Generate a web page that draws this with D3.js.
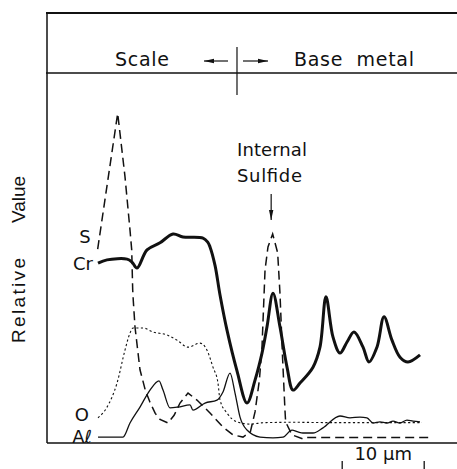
<!DOCTYPE html>
<html>
<head>
<meta charset="utf-8">
<script src="https://cdn.jsdelivr.net/npm/d3@7"></script>
<style>
  body { margin: 0; background: #fff; }
  text { font-family: "DejaVu Sans", "Liberation Sans", sans-serif; fill: #111; }
  .helv { font-family: "Liberation Sans", Arial, sans-serif; }
</style>
</head>
<body>
<svg id="chart" width="457" height="469"></svg>
<script>
// Line-scan profile across the scale / base-metal interface.
// x: distance in µm, y: relative intensity (0–100).

const sulfur = [
  [6.18,52.4],[8.62,89.1],[9.51,72.0],[10.12,57.6],[10.33,52.2],[10.45,41.4],[10.52,38.6],
  [10.73,31.4],[11.34,19.8],[12.0,14.2],[12.56,11.0],[13.2,8.0],[13.78,6.4],[14.76,5.4],[15.5,7.5],[16.22,10.8],
  [17.2,13.5],[18.29,11.6],[19.88,8.1],[21.46,4.3],[22.68,2.2],[23.9,1.6],[24.8,3.0],
  [25.37,8.4],[25.9,17.0],[26.22,26.0],[26.59,46.8],[26.95,53.0],[27.52,56.5],[28.13,51.4],
  [28.41,40.5],[28.74,22.4],[29.02,8.9],[29.1,5.7],[29.88,2.2],[31.22,1.1],[31.71,1.5],
  [38.0,1.5],[46.71,1.5]
];

const chromium = [
  [6.22,48.6],[7.32,49.5],[9.76,49.7],[10.37,48.9],[10.98,47.3],[12.20,52.2],[13.78,54.1],
  [15.37,56.5],[16.59,55.7],[19.02,55.4],[19.6,54.3],[19.88,53.0],[20.49,48.0],[21.10,40.0],
  [21.95,30.5],[23.17,19.5],[24.39,10.8],[25.37,17.0],[26.22,24.3],[26.83,31.4],[27.56,40.5],
  [28.41,31.4],[29.27,20.5],[30.0,14.3],[30.85,16.2],[32.44,20.5],[33.29,25.9],[34.02,39.5],
  [34.88,28.6],[35.73,24.3],[36.59,27.3],[37.44,30.0],[38.54,25.9],[39.27,21.9],[40.24,25.9],
  [41.10,34.1],[42.07,27.8],[43.05,23.2],[44.02,21.9],[45.49,23.8]
];

const oxygen = [
  [6.22,6.8],[7.32,9.7],[8.54,16.2],[9.51,25.1],[10.12,29.7],[10.49,31.1],[11.71,31.1],
  [12.93,30.0],[14.63,29.2],[15.85,27.8],[17.2,25.9],[18.66,27.0],[19.51,25.1],[20.24,20.5],
  [20.85,16.2],[21.10,11.6],[21.95,8.1],[23.17,5.7],[24.76,5.1],[26.5,5.5],[30.0,5.6],
  [35.0,5.5],[40.0,5.5],[45.73,5.5]
];

const aluminium = [
  [6.22,1.6],[9.27,1.6],[10.12,5.4],[11.34,9.7],[12.56,14.3],[13.66,16.8],[14.15,14.3],
  [15.0,9.5],[15.98,9.7],[17.44,10.3],[17.80,8.9],[19.27,10.8],[20.73,11.6],[21.46,13.8],
  [22.32,18.9],[22.93,13.5],[23.54,7.0],[24.39,3.5],[25.98,1.6],[27.56,1.4],[28.78,1.6],
  [29.88,3.5],[30.61,3.0],[31.22,2.7],[32.44,2.7],[33.66,4.1],[35.73,7.3],[36.95,6.8],
  [38.17,7.0],[39.02,6.8],[39.76,5.4],[40.61,5.7],[41.46,5.4],[42.20,5.9],[43.05,5.4],
  [43.90,6.2],[44.63,5.9],[45.49,5.7]
];

const seriesNames = ["S", "Cr", "O", "Aℓ"];
const regionNames = ["Scale", "Base  metal"];
const interfaceAt = 23.17;      // µm, scale / base metal boundary
const sulfideAt = 27.52;        // µm, internal sulfide peak
const scaleBar = [36, 46];      // µm
const scaleBarLabel = "10 µm";

const W = 457, H = 469;
const margin = { left: 47, top: 73, right: 0, bottom: 26 };
const headerTop = 13;

const svg = d3.select("#chart");
const x = d3.scaleLinear().domain([0, 50]).range([margin.left, W - margin.right]);
const y = d3.scaleLinear().domain([0, 100]).range([H - margin.bottom, margin.top]);

const ink = "#111";

// frame: header band, left axis, base line
svg.append("line").attr("x1", x(0) - 1).attr("x2", W).attr("y1", headerTop).attr("y2", headerTop)
  .attr("stroke", ink).attr("stroke-width", 1.8);
svg.append("line").attr("x1", x(0) - 1).attr("x2", W).attr("y1", y(100)).attr("y2", y(100))
  .attr("stroke", ink).attr("stroke-width", 1.5);
svg.append("line").attr("x1", x(0)).attr("x2", x(0)).attr("y1", headerTop).attr("y2", y(0))
  .attr("stroke", ink).attr("stroke-width", 1.5);
svg.append("line").attr("x1", x(0)).attr("x2", W).attr("y1", y(0)).attr("y2", y(0))
  .attr("stroke", ink).attr("stroke-width", 1.6);

// header: regions and boundary
const bx = x(interfaceAt);
svg.append("line").attr("x1", bx).attr("x2", bx).attr("y1", 47).attr("y2", 95)
  .attr("stroke", ink).attr("stroke-width", 1.2);

const defs = svg.append("defs");
defs.append("marker").attr("id", "head").attr("viewBox", "0 0 10 6")
  .attr("refX", 10).attr("refY", 3).attr("markerWidth", 10).attr("markerHeight", 6)
  .attr("markerUnits", "userSpaceOnUse").attr("orient", "auto")
  .append("path").attr("d", "M0,0.8L10,3L0,5.2Z").attr("fill", ink);

svg.append("line").attr("x1", bx - 9).attr("x2", bx - 33).attr("y1", 61).attr("y2", 61)
  .attr("stroke", ink).attr("stroke-width", 1.2).attr("marker-end", "url(#head)");
svg.append("line").attr("x1", bx + 6).attr("x2", bx + 31).attr("y1", 61).attr("y2", 61)
  .attr("stroke", ink).attr("stroke-width", 1.2).attr("marker-end", "url(#head)");

svg.append("text").attr("x", 115).attr("y", 66).attr("font-size", 19)
  .attr("textLength", 54).attr("lengthAdjust", "spacing").text(regionNames[0]);
svg.append("text").attr("x", 294).attr("y", 66).attr("font-size", 19)
  .attr("textLength", 120).attr("lengthAdjust", "spacing")
  .style("white-space", "pre").text(regionNames[1]);

// y-axis title
svg.append("text").attr("class", "helv").attr("transform", "translate(25,343) rotate(-90)")
  .attr("font-size", 19).attr("textLength", 85).attr("lengthAdjust", "spacing").text("Relative");
svg.append("text").attr("class", "helv").attr("transform", "translate(25,223) rotate(-90)")
  .attr("font-size", 19).text("Value");

// profiles
const sharp = d3.line().x(d => x(d[0])).y(d => y(d[1]));
const soft = d3.line().x(d => x(d[0])).y(d => y(d[1])).curve(d3.curveCatmullRom.alpha(0.5));
const smooth = d3.line().x(d => x(d[0])).y(d => y(d[1])).curve(d3.curveMonotoneX);

svg.append("path").datum(oxygen).attr("d", smooth).attr("fill", "none")
  .attr("stroke", ink).attr("stroke-width", 1.1).attr("stroke-dasharray", "2.2,2.4");
svg.append("path").datum(aluminium).attr("d", smooth).attr("fill", "none")
  .attr("stroke", ink).attr("stroke-width", 1.3);
svg.append("path").datum(sulfur).attr("d", sharp).attr("fill", "none")
  .attr("stroke", ink).attr("stroke-width", 1.5).attr("stroke-dasharray", "9,5");
svg.append("path").datum(chromium).attr("d", soft).attr("fill", "none")
  .attr("stroke", ink).attr("stroke-width", 3).attr("stroke-linejoin", "round");

// series labels, at the start of each trace
const starts = [sulfur[0], chromium[0], oxygen[0], aluminium[0]];
const labelShift = [[-7, -6], [-5, 7], [-9, 3], [-6, 6]];
seriesNames.forEach((n, i) => {
  svg.append("text").attr("x", x(starts[i][0]) + labelShift[i][0])
    .attr("y", y(starts[i][1]) + labelShift[i][1])
    .attr("text-anchor", "end").attr("font-size", 18).text(n);
});

// internal sulfide annotation
const sx = x(sulfideAt);
svg.append("text").attr("x", 237).attr("y", 156).attr("font-size", 18)
  .attr("textLength", 70).attr("lengthAdjust", "spacing").text("Internal");
svg.append("text").attr("x", 237).attr("y", 182).attr("font-size", 18)
  .attr("textLength", 65).attr("lengthAdjust", "spacing").text("Sulfide");
svg.append("line").attr("x1", sx - 1.5).attr("x2", sx - 1.5).attr("y1", 194).attr("y2", 220)
  .attr("stroke", ink).attr("stroke-width", 1.2).attr("marker-end", "url(#head)");

// scale bar
const sb0 = x(scaleBar[0]), sb1 = x(scaleBar[1]);
[sb0, sb1].forEach(p => svg.append("line").attr("x1", p).attr("x2", p)
  .attr("y1", 461).attr("y2", H).attr("stroke", ink).attr("stroke-width", 1.3));
svg.append("text").attr("x", (sb0 + sb1) / 2).attr("y", 460).attr("text-anchor", "middle")
  .attr("font-size", 18).text(scaleBarLabel);
</script>
</body>
</html>
